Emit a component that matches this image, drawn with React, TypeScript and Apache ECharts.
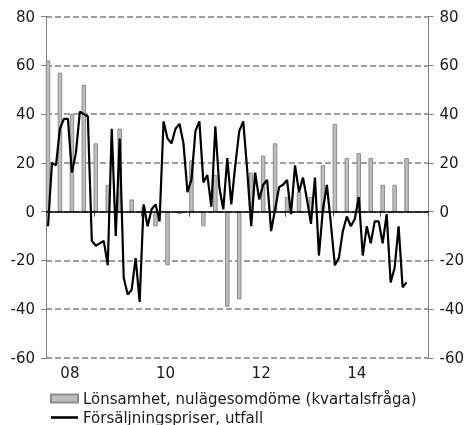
import React, { useEffect, useRef } from "react";
import * as echarts from "echarts";

const yearLabels = ["08", "09", "10", "11", "12", "13", "14", "15"];

// Quarterly: Lönsamhet, nulägesomdöme (2008Q1 .. 2015Q3)
const profitability = [
  62, 57, 40, 52,
  28, 11, 34, 5,
  2, -6, -22, -1,
  21, -6, 15, -39,
  -36, 16, 23, 28,
  6, 8, 6, 19,
  36, 22, 24, 22,
  11, 11, 22,
];

// Monthly: Försäljningspriser, utfall (2008-01 .. 2015-07)
const salesPrices = [
  -6, 20, 19, 34, 38, 38, 16, 24, 41, 40, 39, -12,
  -14, -13, -12, -22, 34, -10, 30, -27, -34, -32, -19, -37,
  3, -6, 1, 3, -4, 37, 30, 28, 34, 36, 28, 8,
  13, 33, 37, 12, 15, 2, 35, 10, 1, 22, 3, 19,
  33, 37, 17, -6, 16, 5, 11, 13, -8, 1, 10, 11,
  13, -1, 19, 8, 14, 5, -5, 14, -18, 1, 11, -5,
  -22, -19, -8, -2, -6, -3, 6, -18, -6, -13, -4, -4,
  -13, -1, -29, -23, -6, -31, -29,
];

const yTicks = { min: -60, max: 80, interval: 20 };

const FONT = "DejaVu Sans";

export default function App() {
  const ref = useRef<HTMLDivElement>(null);

  useEffect(() => {
    if (!ref.current) return;
    const chart = echarts.init(ref.current, undefined, { renderer: "svg" });

    const months: string[] = [];
    yearLabels.forEach((y) => {
      for (let m = 1; m <= 12; m++) months.push(`20${y}-${m}`);
    });
    const barData: (number | null)[] = months.map(() => null);
    profitability.forEach((v, q) => {
      barData[q * 3] = v;
    });
    const lineData: (number | null)[] = months.map((_, i) =>
      i < salesPrices.length ? salesPrices[i] : null
    );

    const axisGray = "#808080";
    const textColor = "#1a1a1a";

    const yAxisBase = {
      type: "value" as const,
      min: yTicks.min,
      max: yTicks.max,
      interval: yTicks.interval,
      axisLine: { show: true, lineStyle: { color: axisGray, width: 1 } },
      axisTick: { show: true, length: 5, lineStyle: { color: axisGray } },
      axisLabel: { fontSize: 15, color: textColor, fontFamily: FONT, margin: 11 },
    };

    chart.setOption({
      animation: false,
      grid: { left: 46, right: 38, top: 16.5, bottom: 67 },
      legend: {
        orient: "vertical",
        left: 50,
        top: 391,
        padding: 0,
        height: 40,
        itemWidth: 27,
        itemHeight: 8,
        itemGap: 4,
        textStyle: { fontSize: 15, color: textColor, fontFamily: FONT, lineHeight: 15 },
        data: [
          { name: "Lönsamhet, nulägesomdöme (kvartalsfråga)", icon: "rect" },
          {
            name: "Försäljningspriser, utfall",
            icon: "path://M0,0L27,0L27,2.6L0,2.6Z",
            itemStyle: { color: "#000" },
          },
        ],
      },
      xAxis: [
        {
          type: "category",
          data: yearLabels,
          boundaryGap: true,
          position: "bottom",
          axisLine: { show: false },
          axisTick: { show: true, interval: 0, length: 5, lineStyle: { color: "#555" } },
          axisLabel: { interval: 1, fontSize: 15, color: textColor, fontFamily: FONT, margin: 7 },
          splitLine: { show: false },
        },
        {
          type: "category",
          data: months,
          boundaryGap: true,
          show: false,
        },
      ],
      yAxis: [
        {
          ...yAxisBase,
          position: "left",
          splitLine: {
            show: true,
            lineStyle: { type: [6, 3], color: axisGray, width: 1.5 },
          },
        },
        {
          ...yAxisBase,
          position: "right",
          splitLine: { show: false },
        },
      ],
      series: [
        {
          name: "Lönsamhet, nulägesomdöme (kvartalsfråga)",
          type: "bar",
          xAxisIndex: 1,
          yAxisIndex: 0,
          data: barData,
          barWidth: 4.5,
          itemStyle: { color: "#bebebe", borderColor: "#8c8c8c", borderWidth: 1 },
          markLine: {
            silent: true,
            symbol: "none",
            label: { show: false },
            lineStyle: { color: "#000", type: "solid", width: 1.5 },
            data: [{ yAxis: 0 }],
          },
        },
        {
          name: "Försäljningspriser, utfall",
          type: "line",
          xAxisIndex: 1,
          yAxisIndex: 0,
          data: lineData,
          symbol: "none",
          lineStyle: { color: "#000", width: 2.2 },
          itemStyle: { color: "#000" },
        },
      ],
    });

    return () => chart.dispose();
  }, []);

  return (
    <div
      ref={ref}
      style={{ position: "fixed", left: 0, top: 0, width: 467, height: 425 }}
    />
  );
}
